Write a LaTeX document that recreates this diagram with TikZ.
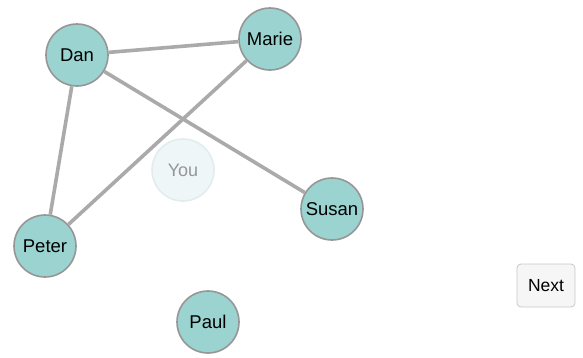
\documentclass[tikz,border=0pt]{standalone}
\usepackage{fontspec}
\setmainfont{Liberation Sans}
\definecolor{nodefill}{RGB}{154,211,208}
\definecolor{nodeline}{RGB}{150,150,150}
\definecolor{edgecol}{RGB}{170,170,170}
\definecolor{youfill}{RGB}{238,246,248}
\definecolor{youline}{RGB}{226,236,238}
\definecolor{youtext}{RGB}{150,150,150}
\definecolor{btnfill}{RGB}{246,246,246}
\definecolor{btnline}{RGB}{200,200,200}
\tikzset{
  person/.style={circle, draw=nodeline, fill=nodefill, line width=1.6pt, minimum size=62pt, inner sep=0pt, font=\fontsize{18.5}{20}\selectfont, text=black},
  youbox/.style={circle, draw=youline, fill=youfill, line width=1.6pt, minimum size=62pt, inner sep=0pt, font=\fontsize{18}{20}\selectfont, text=youtext},
  link/.style={draw=edgecol, line width=3.6pt},
  btn/.style={draw=btnline, fill=btnfill, rounded corners=4pt, line width=0.8pt, minimum width=58pt, minimum height=43pt, font=\fontsize{17.5}{20}\selectfont, text=black}
}
\begin{document}
\begin{tikzpicture}[x=1pt, y=-1pt]
\useasboundingbox (0,0) rectangle (583,357);
\node[youbox] (you) at (183,170) {You};
\node[person] (dan) at (77,55) {Dan};
\node[person] (marie) at (270,39) {Marie};
\node[person] (susan) at (332,209) {Susan};
\node[person] (peter) at (45,246) {Peter};
\node[person] (paul) at (208,322) {Paul};
\draw[link] (dan) -- (marie);
\draw[link] (dan) -- (peter);
\draw[link] (dan) -- (susan);
\draw[link] (marie) -- (peter);
\node[btn] (next) at (546,285.5) {Next};
\end{tikzpicture}
\end{document}
